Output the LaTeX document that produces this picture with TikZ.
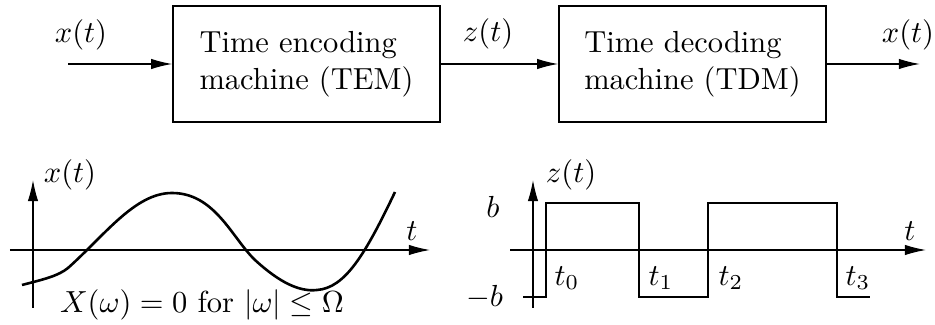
\documentclass[tikz,border=0pt]{standalone}
\usetikzlibrary{arrows.meta}
\begin{document}
\begin{tikzpicture}[x=0.328pt,y=-0.328pt,
  box/.style={draw,line width=0.45pt,minimum width=87.6pt,minimum height=38pt,align=left,inner sep=0pt},
  arr/.style={line width=0.45pt,-{Latex[length=6.9pt,width=3.4pt]}},
  axis/.style={line width=0.4pt,-{Latex[length=6.9pt,width=3.4pt]}},
  sig/.style={line width=0.9pt,line join=miter},
  lbl/.style={inner sep=0pt}]
\useasboundingbox (0,0) rectangle (935,325);
% top chain
\node[box] (tem) at (306.5,64) {Time encoding\\machine (TEM)};
\node[box] (tdm) at (692.5,64) {Time decoding\\machine (TDM)};
\coordinate (in) at (68,64);
\coordinate (out) at (920,64);
\draw[arr] (in) -- (tem.west);
\draw[arr] (tem.east) -- (tdm.west);
\draw[arr] (tdm.east) -- (out);
\node[lbl] (lx) at (81,35) {$x(t)$};
\node[lbl] (lz) at (488,34) {$z(t)$};
\node[lbl] (lxo) at (908,35) {$x(t)$};
% left plot
\coordinate (lyb) at (33,308);
\coordinate (lyt) at (33,180);
\coordinate (lxl) at (10,250);
\coordinate (lxr) at (430,250);
\draw[axis] (lyb) -- (lyt);
\draw[axis] (lxl) -- (lxr);
\node[lbl] (lxt) at (70,175) {$x(t)$};
\node[lbl] (lt) at (412,231) {$t$};
\draw[line width=0.85pt] (22,285) .. controls (45,279) and (58,276) .. (68,268)
  .. controls (105,235) and (135,193) .. (172,193)
  .. controls (215,193) and (232,238) .. (255,260)
  .. controls (280,283) and (300,292) .. (317,290)
  .. controls (345,288) and (365,255) .. (395,192);
\node[lbl] (form) at (202,305) {$X(\omega)=0$ for $|\omega|\leq\Omega$};
% right plot
\coordinate (ryb) at (533,308);
\coordinate (ryt) at (533,180);
\coordinate (rxl) at (510,250);
\coordinate (rxr) at (926,250);
\draw[axis] (ryb) -- (ryt);
\draw[axis] (rxl) -- (rxr);
\node[lbl] (rzt) at (571,175) {$z(t)$};
\node[lbl] (rt) at (910,231) {$t$};
\node[lbl] (rb) at (493,207) {$b$};
\node[lbl] (rmb) at (484.5,297) {$-b$};
\draw[sig] (523,297) -- (546,297) -- (546,203) -- (639,203) -- (639,297) -- (708,297)
  -- (708,203) -- (837,203) -- (837,297) -- (870,297);
\node[lbl] (t0) at (567,278) {$t_0$};
\node[lbl] (t1) at (661,278) {$t_1$};
\node[lbl] (t2) at (731,278) {$t_2$};
\node[lbl] (t3) at (858,278) {$t_3$};
\end{tikzpicture}
\end{document}
